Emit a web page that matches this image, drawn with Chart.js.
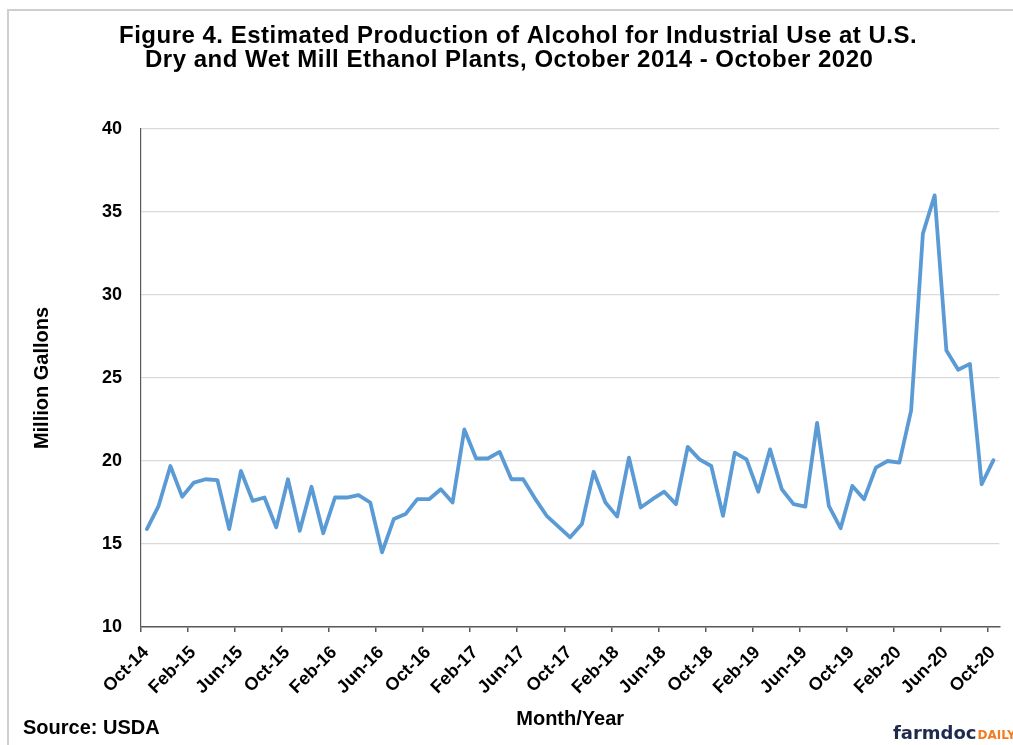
<!DOCTYPE html>
<html>
<head>
<meta charset="utf-8">
<script src="https://cdn.jsdelivr.net/npm/chart.js@4.4.0/dist/chart.umd.min.js"></script>
<style>
  html, body { margin: 0; padding: 0; background: #fff; }
  #wrap { width: 1013px; height: 745px; }
</style>
</head>
<body>
<div id="wrap"><canvas id="alcohol-chart" width="1013" height="745"></canvas></div>
<script>
// Monthly estimates, Oct-14 .. Oct-20 (million gallons)
const values = [
    15.9, 17.3, 19.7, 17.85, 18.7, 18.9, 18.85, 15.9, 19.4, 17.6, 17.8, 16.0,   // Oct-14 .. Sep-15
    18.9, 15.8, 18.45, 15.65, 17.8, 17.8, 17.95, 17.5, 14.5, 16.5, 16.8, 17.7,  // Oct-15 .. Sep-16
    17.7, 18.3, 17.5, 21.9, 20.15, 20.15, 20.55, 18.9, 18.9, 17.75, 16.7, 16.05, // Oct-16 .. Sep-17
    15.4, 16.2, 19.35, 17.5, 16.65, 20.2, 17.2, 17.7, 18.15, 17.4, 20.85, 20.1,  // Oct-17 .. Sep-18
    19.7, 16.7, 20.5, 20.1, 18.15, 20.7, 18.3, 17.4, 17.25, 22.3, 17.3, 15.95,   // Oct-18 .. Sep-19
    18.5, 17.7, 19.6, 20.0, 19.9, 23.05, 33.7, 36.0, 26.65, 25.5, 25.85, 18.6,   // Oct-19 .. Sep-20
    20.05                                                                         // Oct-20
];

// one label every 4 months
const tickLabels = [
    'Oct-14', 'Feb-15', 'Jun-15', 'Oct-15', 'Feb-16', 'Jun-16', 'Oct-16',
    'Feb-17', 'Jun-17', 'Oct-17', 'Feb-18', 'Jun-18', 'Oct-18', 'Feb-19',
    'Jun-19', 'Oct-19', 'Feb-20', 'Jun-20', 'Oct-20'
];

const yTicks = [10, 15, 20, 25, 30, 35, 40];

const titleLines = [
    'Figure 4. Estimated Production of Alcohol for Industrial Use at U.S.',
    'Dry and Wet Mill Ethanol Plants, October 2014 - October 2020'
];

const app = {};

app.font = "'Liberation Sans', Arial, sans-serif";

// ticks sit on the category boundaries, points in the middle (Excel style)
app.tickValues = tickLabels.map((lbl, i) => i * 4 - 0.5);

// extra text: border, title, source and logo
app.extras = {
    id: 'extras',
    beforeDraw: (chart) => {
        const ctx = chart.ctx;
        ctx.save();
        ctx.fillStyle = '#fff';
        ctx.fillRect(0, 0, chart.width, chart.height);
        ctx.strokeStyle = '#cfcfcf';
        ctx.lineWidth = 2;
        ctx.strokeRect(8, 10, 1100, 800);
        ctx.restore();
    },
    afterDraw: (chart) => {
        const ctx = chart.ctx;
        ctx.save();
        ctx.fillStyle = '#000';
        ctx.textAlign = 'left';
        ctx.textBaseline = 'alphabetic';
        ctx.font = 'bold 24px ' + app.font;
        ctx.letterSpacing = '0.5px';
        ctx.fillText(titleLines[0], 119, 43);
        ctx.fillText(titleLines[1], 145, 67);
        ctx.letterSpacing = '0px';

        ctx.font = 'bold 20px ' + app.font;
        ctx.fillText('Source: USDA', 23, 734);

        ctx.font = "bold 18px 'DejaVu Sans'";
        ctx.fillStyle = '#1f2b4d';
        ctx.fillText('farmdoc', 893, 739);
        const w = ctx.measureText('farmdoc').width;
        ctx.font = "bold 12px 'DejaVu Sans'";
        ctx.fillStyle = '#f47b20';
        ctx.fillText('DAILY', 893 + w + 1, 739);
        ctx.restore();
    }
};

app.drawChart = () => {
    const points = values.map((v, i) => ({ x: i, y: v }));

    const config = {
        type: 'line',
        data: {
            datasets: [{
                label: 'Million Gallons',
                data: points,
                borderColor: '#5b9bd5',
                borderWidth: 3.8,
                borderJoinStyle: 'round',
                borderCapStyle: 'round',
                pointRadius: 0,
                tension: 0,
                fill: false
            }]
        },
        options: {
            responsive: false,
            animation: false,
            devicePixelRatio: 1,
            layout: {
                padding: { top: 129, right: 12, bottom: 0, left: 0 }
            },
            plugins: {
                legend: { display: false },
                tooltip: { enabled: false },
                title: { display: false }
            },
            scales: {
                x: {
                    type: 'linear',
                    min: -0.5,
                    max: values.length - 0.5,
                    afterBuildTicks: (scale) => {
                        scale.ticks = app.tickValues.map(v => ({ value: v }));
                    },
                    afterFit: (scale) => {
                        scale.height = 118;
                    },
                    grid: {
                        drawOnChartArea: false,
                        drawTicks: true,
                        tickLength: 5,
                        color: '#595959',
                        lineWidth: 1.5
                    },
                    border: { display: true, color: '#595959', width: 1.5 },
                    ticks: {
                        autoSkip: false,
                        minRotation: 45,
                        maxRotation: 45,
                        padding: 10,
                        labelOffset: 5,
                        color: '#000',
                        font: { family: app.font, size: 18, weight: 'bold' },
                        callback: (value) => tickLabels[Math.round((value + 0.5) / 4)]
                    },
                    title: {
                        display: true,
                        text: 'Month/Year',
                        color: '#000',
                        font: { family: app.font, size: 20, weight: 'bold' },
                        padding: { top: 0, bottom: 14 }
                    }
                },
                y: {
                    min: 10,
                    max: 40,
                    afterBuildTicks: (scale) => {
                        scale.ticks = yTicks.map(v => ({ value: v }));
                    },
                    afterFit: (scale) => {
                        scale.width = 141;
                    },
                    grid: {
                        color: '#d9d9d9',
                        lineWidth: 1.3,
                        drawTicks: false
                    },
                    border: { display: true, color: '#595959', width: 1.2 },
                    ticks: {
                        padding: 19,
                        color: '#000',
                        font: { family: app.font, size: 18, weight: 'bold' }
                    },
                    title: {
                        display: true,
                        text: 'Million Gallons',
                        color: '#000',
                        font: { family: app.font, size: 20, weight: 'bold' },
                        padding: { top: 30, bottom: 0 }
                    }
                }
            }
        },
        plugins: [app.extras]
    };

    app.chart = new Chart(document.getElementById('alcohol-chart'), config);
};

app.init = () => {
    app.drawChart();
};

app.init();
</script>
</body>
</html>
